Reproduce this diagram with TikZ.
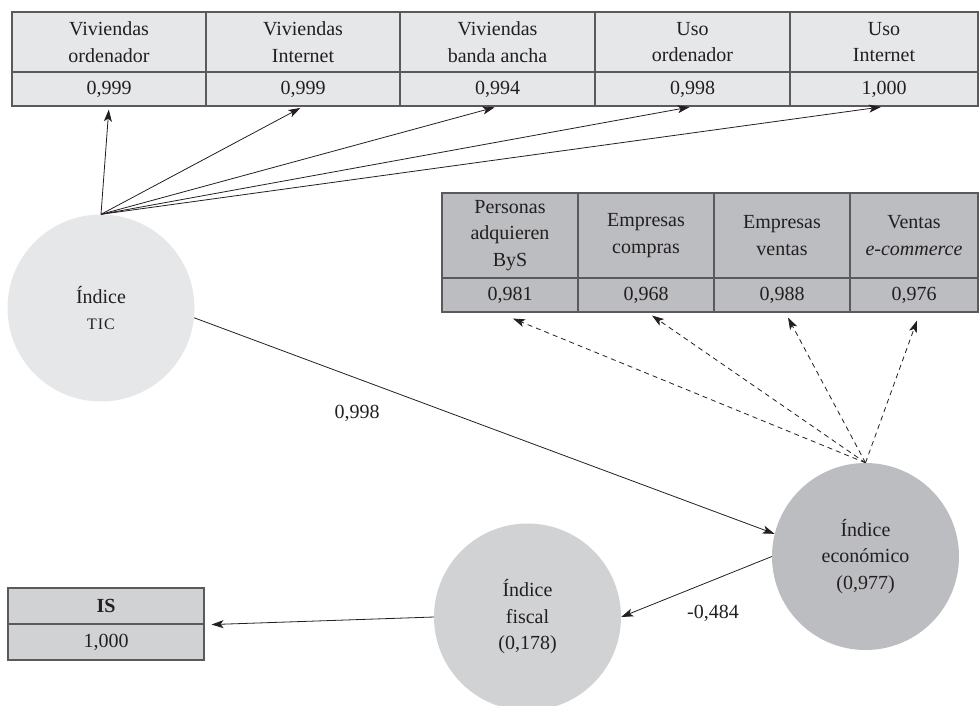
\documentclass[tikz,border=0pt]{standalone}
\usepackage{fontspec}
\setmainfont{Liberation Serif}
\usetikzlibrary{arrows.meta}
\definecolor{paleFill}{HTML}{E6E7E8}
\definecolor{darkFill}{HTML}{BCBDC0}
\definecolor{midFill}{HTML}{D1D2D4}
\definecolor{rule}{HTML}{5A5A5C}
\definecolor{ink}{HTML}{231F20}
\newcommand{\smallcapsword}[1]{{\fontsize{16}{26}\selectfont\addfontfeatures{LetterSpace=6}#1}}
\begin{document}
\begin{tikzpicture}[x=1pt,y=-1pt,
  every node/.style={text=ink, font=\fontsize{20}{26.5}\selectfont, inner sep=0pt, align=center},
  cell/.style={draw=rule, line width=1.1pt, rectangle, anchor=center},
  topcell/.style={cell, fill=paleFill},
  midcell/.style={cell, fill=darkFill},
  factor/.style={circle, minimum size=187pt},
  link/.style={draw=ink, line width=0.8pt, -{Stealth[length=12pt,width=8pt,inset=3pt]}},
  loading/.style={link, dash pattern=on 5pt off 4pt}
]
\useasboundingbox (0,0) rectangle (979,705);

% observed indicators of the ICT index
\node[topcell, minimum width=194pt, minimum height=60pt] (h1) at (109,42)   {Viviendas\\ordenador};
\node[topcell, minimum width=194pt, minimum height=60pt] (h2) at (303,42)   {Viviendas\\Internet};
\node[topcell, minimum width=195pt, minimum height=60pt] (h3) at (497.5,42) {Viviendas\\banda ancha};
\node[topcell, minimum width=195pt, minimum height=60pt] (h4) at (692.5,42) {Uso\\ordenador};
\node[topcell, minimum width=188pt, minimum height=60pt] (h5) at (884,42)   {Uso\\Internet};
\node[topcell, minimum width=194pt, minimum height=34pt] (v1) at (109,89)   {0,999};
\node[topcell, minimum width=194pt, minimum height=34pt] (v2) at (303,89)   {0,999};
\node[topcell, minimum width=195pt, minimum height=34pt] (v3) at (497.5,89) {0,994};
\node[topcell, minimum width=195pt, minimum height=34pt] (v4) at (692.5,89) {0,998};
\node[topcell, minimum width=188pt, minimum height=34pt] (v5) at (884,89)   {1,000};

% observed indicators of the economic index
\node[midcell, minimum width=136pt, minimum height=85pt] (p1) at (510,235.5) {Personas\\adquieren\\ByS};
\node[midcell, minimum width=136pt, minimum height=85pt] (p2) at (646,235.5) {Empresas\\compras};
\node[midcell, minimum width=136pt, minimum height=85pt] (p3) at (782,235.5) {Empresas\\ventas};
\node[midcell, minimum width=128pt, minimum height=85pt] (p4) at (914,235.5) {Ventas\\\textit{e-commerce}};
\node[midcell, minimum width=136pt, minimum height=34pt] (q1) at (510,295) {0,981};
\node[midcell, minimum width=136pt, minimum height=34pt] (q2) at (646,295) {0,968};
\node[midcell, minimum width=136pt, minimum height=34pt] (q3) at (782,295) {0,988};
\node[midcell, minimum width=128pt, minimum height=34pt] (q4) at (914,295) {0,976};

% outcome box
\node[cell, fill=midFill, minimum width=196pt, minimum height=36pt] (ish) at (106,606) {\textbf{IS}};
\node[cell, fill=midFill, minimum width=196pt, minimum height=36pt] (isv) at (106,642) {1,000};

% latent indices
\node[factor, fill=paleFill] (tic)    at (101,308)     {Índice\\\smallcapsword{TIC}};
\node[factor, fill=darkFill] (econ)   at (865.5,556.5) {Índice\\económico\\(0,977)};
\node[factor, fill=midFill]  (fiscal) at (527.5,617)   {Índice\\fiscal\\(0,178)};

% loadings of the ICT index
\foreach \v in {v1,v2,v3,v4,v5}
  \draw[link, shorten >=3pt] (tic.north) -- (\v.south);

% loadings of the economic index
\draw[loading] (econ.north) -- ([xshift=3pt,yshift=-6pt]q1.south);
\draw[loading] (econ.north) -- ([xshift=6pt,yshift=-3pt]q2.south);
\draw[loading] (econ.north) -- ([xshift=6pt,yshift=-5pt]q3.south);
\draw[loading] (econ.north) -- ([xshift=3pt,yshift=-8pt]q4.south);

% structural paths
\draw[link] (tic.-6) -- (econ.166);
\node (w1) at (357,413) {0,998};
\draw[link] (econ.west) -- (fiscal.east);
\node (w2) at (713,613) {-0,484};
\draw[link] (fiscal.west) -- ([xshift=7pt]ish.south east);
\end{tikzpicture}
\end{document}
